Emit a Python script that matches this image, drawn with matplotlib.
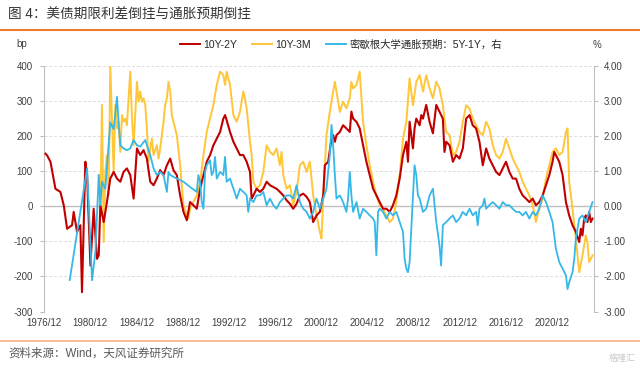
import matplotlib
matplotlib.use("Agg")
import matplotlib.pyplot as plt
from matplotlib.lines import Line2D

plt.rcParams['font.family'] = ['Liberation Sans', 'Noto Sans CJK SC', 'DejaVu Sans']
plt.rcParams['axes.unicode_minus'] = False

# ---- data (decimal years) ----
red_t = [1977.05, 1977.19, 1977.48, 1977.91, 1978.34, 1978.63, 1978.92, 1979.35, 1979.49, 1979.78,
         1980.07, 1980.21, 1980.50, 1980.65, 1980.94, 1981.22, 1981.51, 1981.66, 1981.80, 1982.09,
         1982.37, 1982.66, 1982.95, 1983.24, 1983.53, 1983.81, 1984.10, 1984.39, 1984.68, 1984.97,
         1985.25, 1985.54, 1985.83, 1986.12, 1986.41, 1986.69, 1986.98, 1987.27, 1987.56, 1987.85,
         1988.13, 1988.42, 1988.71, 1989.00, 1989.29, 1989.57, 1989.86, 1990.15, 1990.44, 1990.73,
         1991.01, 1991.30, 1991.59, 1991.88, 1992.17, 1992.45, 1992.60, 1992.74, 1993.03, 1993.32,
         1993.61, 1993.89, 1994.18, 1994.47, 1994.76, 1994.90, 1995.05, 1995.33, 1995.62, 1995.91,
         1996.20, 1996.49, 1996.78, 1997.06, 1997.35, 1997.64, 1997.93, 1998.22, 1998.50, 1998.79,
         1999.08, 1999.37, 1999.66, 1999.94, 2000.23, 2000.52, 2000.81, 2001.10, 2001.24, 2001.53,
         2001.82, 2001.96, 2002.11, 2002.25, 2002.54, 2002.82, 2003.11, 2003.40, 2003.54, 2003.69,
         2003.98, 2004.26, 2004.55, 2004.84, 2005.13, 2005.42, 2005.70, 2005.99, 2006.28, 2006.57,
         2006.86, 2007.14, 2007.43, 2007.72, 2008.01, 2008.30, 2008.44, 2008.58, 2008.87, 2009.01,
         2009.16, 2009.45, 2009.59, 2009.74, 2010.02, 2010.31, 2010.60, 2010.89, 2011.17, 2011.46,
         2011.60, 2011.75, 2012.04, 2012.33, 2012.61, 2012.90, 2013.19, 2013.48, 2013.77, 2014.05,
         2014.34, 2014.63, 2014.92, 2015.21, 2015.49, 2015.78, 2016.07, 2016.36, 2016.65, 2016.93,
         2017.22, 2017.51, 2017.80, 2018.08, 2018.37, 2018.66, 2018.95, 2019.24, 2019.52, 2019.81,
         2020.10, 2020.39, 2020.68, 2020.96, 2021.11, 2021.25, 2021.54, 2021.83, 2022.12, 2022.40,
         2022.69, 2022.98, 2023.27, 2023.41, 2023.55, 2023.70, 2023.84, 2023.98, 2024.13, 2024.27,
         2024.42]
red_v = [150, 145, 127, 50, 41, 3, -64, -54, -16, -73,
         -54, -245, 127, 89, -169, -7, -150, -140, 3, -45,
         12, 79, 98, 79, 70, 98, 108, 89, 22, 165,
         146, 160, 136, 70, 60, 79, 103, 89, 117, 136,
         103, 89, 31, -16, -40, 12, 3, -7, 50, 89,
         127, 146, 174, 193, 212, 250, 260, 245, 212, 184,
         165, 146, 146, 127, 98, 22, 31, 50, 41, 50,
         70, 60, 55, 50, 41, 31, 17, 7, -7, 7,
         31, 36, 27, 12, -45, -26, -16, 31, 117, 127,
         193, 203, 184, 203, 212, 231, 222, 212, 270, 250,
         241, 222, 174, 127, 89, 50, 31, 12, -7, -7,
         -16, 3, 31, 79, 146, 184, 127, 241, 165, 222,
         250, 231, 260, 250, 289, 241, 208, 289, 270, 250,
         155, 184, 174, 127, 146, 136, 165, 250, 260, 231,
         222, 184, 117, 165, 136, 117, 98, 89, 108, 127,
         98, 79, 79, 50, 31, 22, 12, 22, 3, 12,
         31, 60, 89, 127, 155, 146, 127, 89, 12, -26,
         -54, -73, -102, -64, -83, -35, -26, -45, -16, -45,
         -35]

yel_t = [1981.66, 1981.80, 1981.94, 1982.09, 1982.23, 1982.37, 1982.52, 1982.66, 1982.81, 1982.95,
         1983.10, 1983.24, 1983.38, 1983.53, 1983.67, 1983.81, 1983.96, 1984.10, 1984.39, 1984.53,
         1984.68, 1984.97, 1985.11, 1985.25, 1985.40, 1985.54, 1985.69, 1985.83, 1985.97, 1986.12,
         1986.26, 1986.41, 1986.69, 1986.84, 1986.98, 1987.27, 1987.41, 1987.56, 1987.70, 1987.85,
         1987.99, 1988.13, 1988.42, 1988.71, 1989.00, 1989.29, 1989.43, 1989.57, 1989.86, 1990.15,
         1990.44, 1990.73, 1991.01, 1991.30, 1991.59, 1991.88, 1992.17, 1992.45, 1992.60, 1992.74,
         1992.88, 1993.03, 1993.32, 1993.61, 1993.89, 1994.18, 1994.32, 1994.47, 1994.76, 1994.90,
         1995.05, 1995.33, 1995.62, 1995.91, 1996.20, 1996.49, 1996.78, 1997.06, 1997.35, 1997.49,
         1997.64, 1997.93, 1998.22, 1998.50, 1998.79,
         1999.08, 1999.37, 1999.66, 1999.94, 2000.23, 2000.52, 2000.81, 2000.95, 2001.10, 2001.38,
         2001.67, 2001.96, 2002.11, 2002.25, 2002.54, 2002.82, 2003.11, 2003.40, 2003.54, 2003.69,
         2003.98, 2004.26, 2004.41, 2004.55, 2004.84, 2005.13, 2005.42, 2005.70, 2005.99, 2006.28,
         2006.57, 2006.86, 2007.14, 2007.43, 2007.72, 2008.01, 2008.30, 2008.58, 2008.87, 2009.16,
         2009.45, 2009.74, 2010.02, 2010.31, 2010.60, 2010.89, 2011.17, 2011.46, 2011.75, 2012.04,
         2012.33, 2012.61, 2012.90, 2013.19, 2013.48, 2013.77, 2014.05, 2014.34, 2014.63, 2014.92,
         2015.21, 2015.49, 2015.78, 2016.07, 2016.36, 2016.65, 2016.93, 2017.22, 2017.51, 2017.80,
         2018.08, 2018.37, 2018.66, 2018.95, 2019.24, 2019.52, 2019.81, 2020.10, 2020.39, 2020.68,
         2020.96, 2021.25, 2021.54, 2021.83, 2022.12, 2022.26, 2022.40, 2022.69, 2022.98, 2023.27,
         2023.55, 2023.84, 2023.98, 2024.13, 2024.42]
yel_v = [89, -25, 289, -102, 98, 146, 31, 403, 241, 98,
         289, 222, 241, 155, 260, 241, 250, 231, 384, 260,
         174, 355, 298, 327, 298, 308, 289, 222, 127, 165,
         193, 146, 174, 136, 165, 241, 289, 308, 355, 327,
         260, 241, 203, 117, 3, -26, -35, -7, 12, 31,
         70, 146, 212, 250, 289, 346, 384, 374, 346, 384,
         365, 346, 260, 241, 269, 327, 308, 279, 184, 146,
         70, 50, 60, 98, 174, 155, 146, 165, 117, 155,
         89, 50, 60, 3, 41,
         117, 127, 98, 127, 31, -26, -73, -92, 22, 203,
         269, 327, 355, 327, 269, 298, 279, 308, 355, 336,
         346, 384, 308, 241, 174, 117, 70, 31, 3, -7,
         -26, -45, -35, 12, 89, 193, 241, 365, 288, 355,
         374, 327, 374, 336, 308, 355, 336, 288, 212, 203,
         146, 155, 184, 241, 288, 279, 250, 231, 212, 203,
         241, 222, 174, 146, 136, 155, 193, 165, 136, 117,
         98, 70, 50, 31, 3, -45, -7, 22, 79, 117,
         155, 165, 146, 155, 212, 222, 70, -7, -92, -188,
         -140, -83, -102, -159, -140]

blu_t = [1979.15, 1980.65, 1981.08, 1981.37, 1981.66, 1981.80, 1981.94, 1982.23, 1982.66, 1982.95,
         1983.24, 1983.38, 1983.53, 1983.81, 1984.10, 1984.39, 1984.68, 1984.97, 1985.25, 1985.69,
         1985.83, 1986.12, 1986.41, 1986.69, 1986.98, 1987.27, 1987.56, 1987.70, 1987.85, 1988.42,
         1989.00, 1989.57, 1990.15, 1990.29, 1990.44, 1990.58, 1990.73, 1990.87, 1991.01, 1991.30,
         1991.44, 1991.59, 1991.73, 1991.88, 1992.17, 1992.45, 1992.60, 1992.74, 1993.03, 1993.32,
         1993.61, 1993.89, 1994.18, 1994.47, 1994.61, 1994.76, 1995.05, 1995.33, 1995.62, 1995.91,
         1996.20, 1996.49, 1996.78, 1997.06, 1997.35, 1997.64, 1997.93, 1998.22, 1998.50, 1998.79,
         1999.08, 1999.37, 1999.66, 1999.94, 2000.23, 2000.52, 2000.81, 2001.10, 2001.38, 2001.67,
         2001.82, 2001.96, 2002.11, 2002.25, 2002.54, 2002.82, 2003.11, 2003.25, 2003.40, 2003.54,
         2003.69, 2003.98, 2004.26, 2004.55, 2004.84, 2005.13, 2005.42, 2005.56, 2005.70, 2005.85,
         2005.99, 2006.28, 2006.57, 2006.86, 2007.14, 2007.43, 2007.72, 2008.01, 2008.15, 2008.30,
         2008.44, 2008.58, 2008.87, 2009.01, 2009.16, 2009.30, 2009.45, 2009.74, 2010.02, 2010.31,
         2010.60, 2010.74, 2010.89, 2011.17, 2011.31, 2011.46, 2011.75, 2012.04, 2012.33, 2012.61,
         2012.90, 2013.19, 2013.48, 2013.77, 2014.05, 2014.34, 2014.48, 2014.63, 2014.92, 2015.06,
         2015.21, 2015.49, 2015.78, 2016.07, 2016.36, 2016.65, 2016.93, 2017.22, 2017.51, 2017.80,
         2018.08, 2018.37, 2018.66, 2018.95, 2019.24, 2019.52, 2019.81, 2020.10, 2020.39, 2020.68,
         2020.96, 2021.25, 2021.54, 2021.83, 2022.12, 2022.26, 2022.40, 2022.69, 2022.84, 2022.98,
         2023.27, 2023.55, 2023.84, 2024.13, 2024.42]
blu_v = [-2.10, 1.08, -2.11, -1.30, 0.89, 0.03, 0.70, 0.50, 2.39, 2.20,
         3.12, 2.41, 1.74, 1.65, 1.60, 1.65, 1.89, 1.74, 1.70, 1.89,
         1.74, 1.46, 1.08, 0.89, 0.98, 0.89, 0.41, 0.98, 0.89, 0.79,
         0.70, 0.55, 0.41, 0.89, 0.70, 0.12, -0.07, 0.98, 1.17, 1.31,
         0.89, 0.98, 1.41, 0.79, 0.98, 0.89, 1.41, 0.70, 0.79, 0.50,
         0.22, 0.50, 0.41, 0.31, -0.16, 0.22, 0.12, 0.31, 0.31, 0.41,
         0.03, 0.22, 0.03, -0.07, 0.12, 0.22, 0.31, 0.31, 0.22, 0.60,
         0.12, -0.07, -0.16, -0.35, -0.16, 0.22, -0.07, 0.22, 0.50, 1.46,
         2.32, 1.74, 0.89, 0.22, 0.31, 0.12, -0.16, 0.22, 0.98, 0.31,
         -0.16, 0.12, -0.35, -0.07, -0.16, -0.26, -0.35, -0.45, -1.40, -0.16,
         -0.07, -0.16, -0.35, -0.16, -0.26, -0.16, -0.45, -0.73, -1.50, -1.78,
         -1.88, -1.59, 0.31, 1.17, 0.89, 0.31, 0.22, -0.16, -0.07, 0.31,
         0.50, 0.03, -0.45, -1.12, -1.69, -0.54, -0.45, -0.35, -0.26, -0.45,
         -0.35, -0.16, -0.26, -0.07, -0.26, -0.16, -0.54, -0.07, 0.03, 0.22,
         -0.07, 0.03, 0.12, 0.03, -0.07, 0.12, 0.03, 0.03, -0.07, -0.16,
         -0.16, -0.26, -0.16, -0.35, -0.16, -0.26, -0.07, 0.31, 0.12, -0.16,
         -0.45, -1.21, -1.59, -1.78, -1.97, -2.36, -2.17, -1.88, -1.50, -0.92,
         -0.35, -0.26, -0.45, -0.16, 0.12]

xtick_pos = [1976.92 + 4 * i for i in range(12)]
xtick_lab = ['1976/12', '1980/12', '1984/12', '1988/12', '1992/12', '1996/12',
             '2000/12', '2004/12', '2008/12', '2012/12', '2016/12', '2020/12']
left_ticks = [-300, -200, -100, 0, 100, 200, 300, 400]
right_ticks = [-3, -2, -1, 0, 1, 2, 3, 4]

RED = '#C00000'
YEL = '#FFC637'
BLU = '#35B8E8'
TXT = '#404040'
GRID = '#DDDDDD'

fig = plt.figure(figsize=(6.4, 3.7), dpi=100)
ax = fig.add_axes([44 / 640, 1 - 311.5 / 370, 550 / 640, 245.5 / 370])
ax2 = ax.twinx()

ax.plot(yel_t, yel_v, color=YEL, lw=1.4, zorder=3)
ax.plot(red_t, red_v, color=RED, lw=1.5, zorder=4)
ax2.plot(blu_t, blu_v, color=BLU, lw=1.3, zorder=5)

ax.set_xlim(1976.92, 2024.55)
ax.set_ylim(-300, 400)
ax2.set_ylim(-3, 4)
ax.set_yticks(left_ticks)
ax.set_yticklabels([str(v) for v in left_ticks])
ax2.set_yticks(right_ticks)
ax2.set_yticklabels(['%.2f' % v for v in right_ticks])
ax.set_xticks(xtick_pos)
ax.set_xticklabels(xtick_lab)

for t in left_ticks:
    if t == 0:
        ax.axhline(t, color='#BFBFBF', lw=1.0, zorder=1)
    else:
        ax.axhline(t, color=GRID, lw=0.7, ls=(0, (3, 2)), zorder=1)

for a in (ax, ax2):
    for s in ('top', 'bottom'):
        a.spines[s].set_visible(False)
ax.spines['left'].set_color('#BFBFBF')
ax.spines['right'].set_visible(False)
ax2.spines['left'].set_visible(False)
ax2.spines['right'].set_color('#BFBFBF')

ax.tick_params(axis='y', length=3, width=0.8, color='#BFBFBF', labelsize=7, labelcolor=TXT, pad=5)
ax2.tick_params(axis='y', length=3, width=0.8, color='#BFBFBF', labelsize=7, labelcolor=TXT, pad=4)
ax.tick_params(axis='x', length=0, labelsize=7, labelcolor=TXT, pad=5)

# legend
handles = [Line2D([], [], color=RED, lw=1.4), Line2D([], [], color=YEL, lw=1.4),
           Line2D([], [], color=BLU, lw=1.4)]
labels = ['10Y-2Y', '10Y-3M', '密歇根大学通胀预期：5Y-1Y，右']
fig.legend(handles, labels, loc='center', bbox_to_anchor=(341 / 640, 1 - 45 / 370), ncol=3,
           frameon=False, fontsize=7.5, handlelength=1.9, handletextpad=0.35, columnspacing=1.4,
           labelcolor='#262626')

fig.text(16 / 640, 1 - 44 / 370, 'bp', fontsize=7, color=TXT, va='center', ha='left')
fig.text(593 / 640, 1 - 45 / 370, '%', fontsize=7, color=TXT, va='center', ha='left')

# title and source
fig.text(8 / 640, 1 - 15 / 370, '图 4：美债期限利差倒挂与通胀预期倒挂', fontsize=9.8,
         color='#333333', va='center', ha='left')
fig.add_artist(Line2D([0, 1], [1 - 29.5 / 370, 1 - 29.5 / 370], color='#ED7D31', lw=1.5,
                      transform=fig.transFigure))
fig.add_artist(Line2D([0, 1], [1 - 341 / 370, 1 - 341 / 370], color='#F4B183', lw=1.2,
                      transform=fig.transFigure))
fig.text(8 / 640, 1 - 354 / 370, '资料来源：Wind，天风证券研究所', fontsize=8.3,
         color='#595959', va='center', ha='left')
fig.text(636 / 640, 1 - 358 / 370, '格隆汇', fontsize=6.5, color='#C8C8C8',
         va='center', ha='right')

fig.savefig('out.png', dpi=100)
